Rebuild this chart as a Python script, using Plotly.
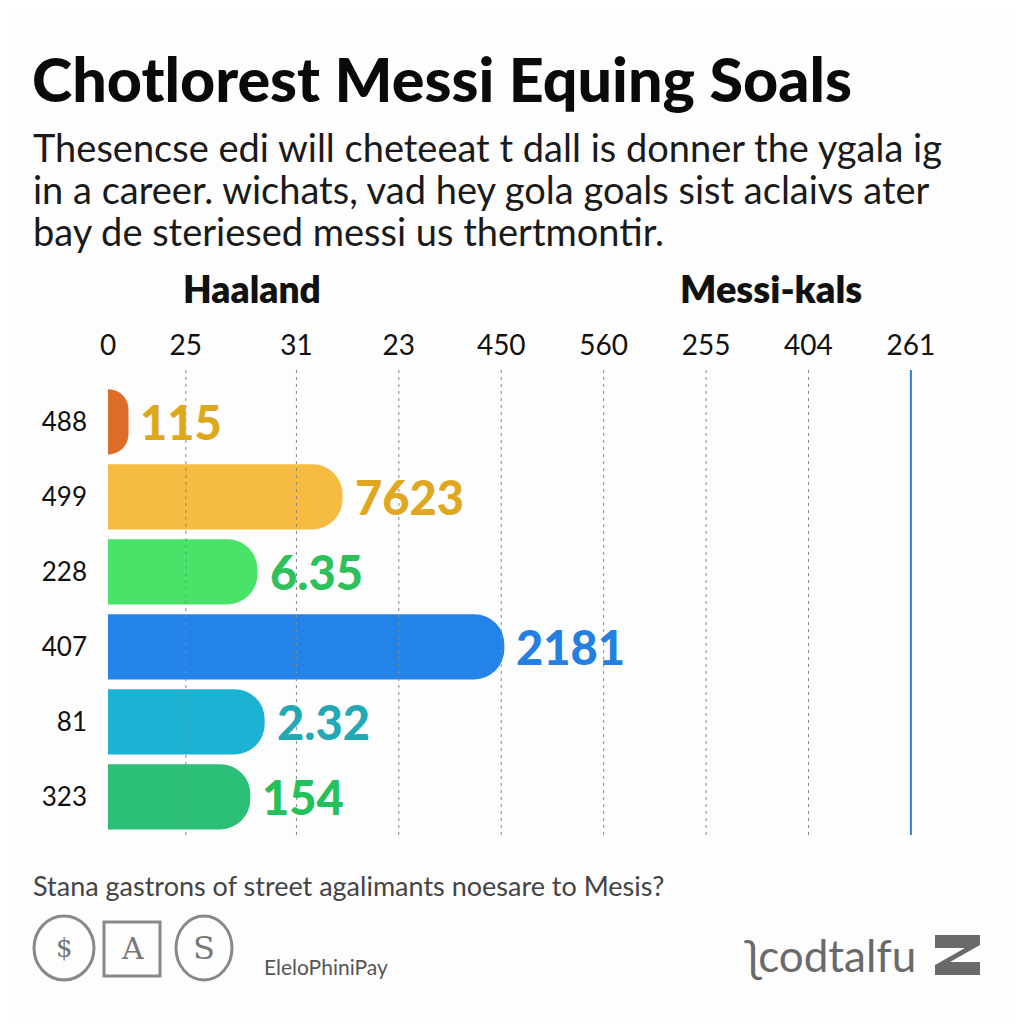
import plotly.graph_objects as go

# data
rows = ["488", "499", "228", "407", "81", "323"]
bar_len = [0.20, 2.29, 1.46, 3.87, 1.53, 1.39]
value_text = ["115", "7623", "6.35", "2181", "2.32", "154"]
bar_colors = ["#DD6E2A", "#F6BC42", "#4AE36A", "#2383E8", "#1BB2D4", "#2CBF78"]
text_colors = ["#DDA91A", "#E0A820", "#2EC05A", "#2380E0", "#23A9B5", "#25C05A"]
tick_pos = [0, 0.76, 1.84, 2.84, 3.84, 4.84, 5.84, 6.84, 7.84]
tick_text = ["0", "25", "31", "23", "450", "560", "255", "404", "261"]

title = "Chotlorest Messi Equing Soals"
subtitle = ["Thesencse edi will cheteeat t dall is donner the ygala ig",
            "in a career. wichats, vad hey gola goals sist aclaivs ater",
            "bay de steriesed messi us thertmontir."]
footer = "Stana gastrons of street agalimants noesare to Mesis?"

OFF = 8  # page body margin
W, H = 1016, 1016
L, R, T, B = 108 - OFF, 958 - OFF, 370 - OFF, 835 - OFF


def px(x, y):
    # reference pixels -> paper coords
    return (x - OFF - L) / (R - L), (B - (y - OFF)) / (B - T)


fig = go.Figure()
fig.add_trace(go.Bar(
    y=list(range(len(rows))), x=bar_len, orientation="h",
    marker=dict(color=bar_colors, cornerradius=30, line_width=0),
    width=0.87, hoverinfo="skip",
))

for i, (v, t, c) in enumerate(zip(bar_len, value_text, text_colors)):
    fig.add_annotation(x=v, y=i, text=t, xanchor="left", xshift=10, showarrow=False,
                       font=dict(family="Lato", size=47, color=c, weight=900))

# dashed grid + blue line
for v in tick_pos[1:-1]:
    fig.add_vline(x=v, line=dict(color="#888", width=1, dash="3px,4px"))
fig.add_vline(x=tick_pos[-1], line=dict(color="#2E7FD0", width=2))


def txt(x, y, s, size, color="#111", weight=400, xanchor="left", family="Lato"):
    xp, yp = px(x, y)
    fig.add_annotation(x=xp, y=yp, xref="paper", yref="paper", text=s, showarrow=False,
                       xanchor=xanchor, yanchor="middle",
                       font=dict(family=family, size=size, color=color, weight=weight))


txt(30, 78, title, 61, "#0a0a0a", 900)
for i, line in enumerate(subtitle):
    txt(31, 147 + i * 42, line, 38, "#1a1a1a")
txt(252, 288, "Haaland", 37, "#111", 800, "center")
txt(771, 288, "Messi-kals", 38, "#111", 800, "center")
txt(31, 885, footer, 27, "#444")
txt(262, 966, "EleloPhiniPay", 21, "#555")
txt(741, 955, "\u0285codtalfu", 44, "#6a6a6a", 400)


# logo shapes
def shp(kind, x0, y0, x1, y1, **kw):
    a, b = px(x0, y0)
    c, d = px(x1, y1)
    fig.add_shape(type=kind, xref="paper", yref="paper", x0=a, y0=b, x1=c, y1=d, **kw)


shp("circle", 34, 916, 94, 980, line=dict(color="#888", width=3))
shp("rect", 104, 922, 160, 976, line=dict(color="#888", width=3))
shp("circle", 176, 916, 232, 980, line=dict(color="#888", width=3))
txt(64, 948, "$", 26, "#777", 400, "center", "DejaVu Serif")
txt(132, 948, "A", 30, "#777", 400, "center", "DejaVu Serif")
txt(204, 948, "S", 32, "#777", 400, "center", "DejaVu Serif")

zx = [px(x, 0)[0] for x in (935, 980, 980, 950, 980, 980, 935, 935, 965, 935)]
zy = [px(0, y)[1] for y in (935, 935, 945, 962, 962, 975, 975, 965, 948, 948)]
path = "M " + " L ".join(f"{a},{b}" for a, b in zip(zx, zy)) + " Z"
fig.add_shape(type="path", xref="paper", yref="paper", path=path,
              fillcolor="#6a6a6a", line_width=0)

fig.update_layout(
    width=W, height=H,
    margin=dict(l=L, r=W - R, t=T, b=H - B),
    paper_bgcolor="#FDFDFD", plot_bgcolor="#FDFDFD",
    showlegend=False,
    font=dict(family="Lato", color="#111"),
)
fig.update_xaxes(side="top", range=[0, 8.3], tickvals=tick_pos, ticktext=tick_text,
                 showgrid=False, zeroline=False, showline=False,
                 tickfont=dict(size=28, color="#111"), ticklabelstandoff=8)
fig.update_yaxes(range=[5.51, -0.69], tickvals=list(range(len(rows))), ticktext=rows,
                 showgrid=False, zeroline=False, showline=False,
                 tickfont=dict(size=26, color="#111"), ticklabelstandoff=20)

fig.write_html("out.html")
